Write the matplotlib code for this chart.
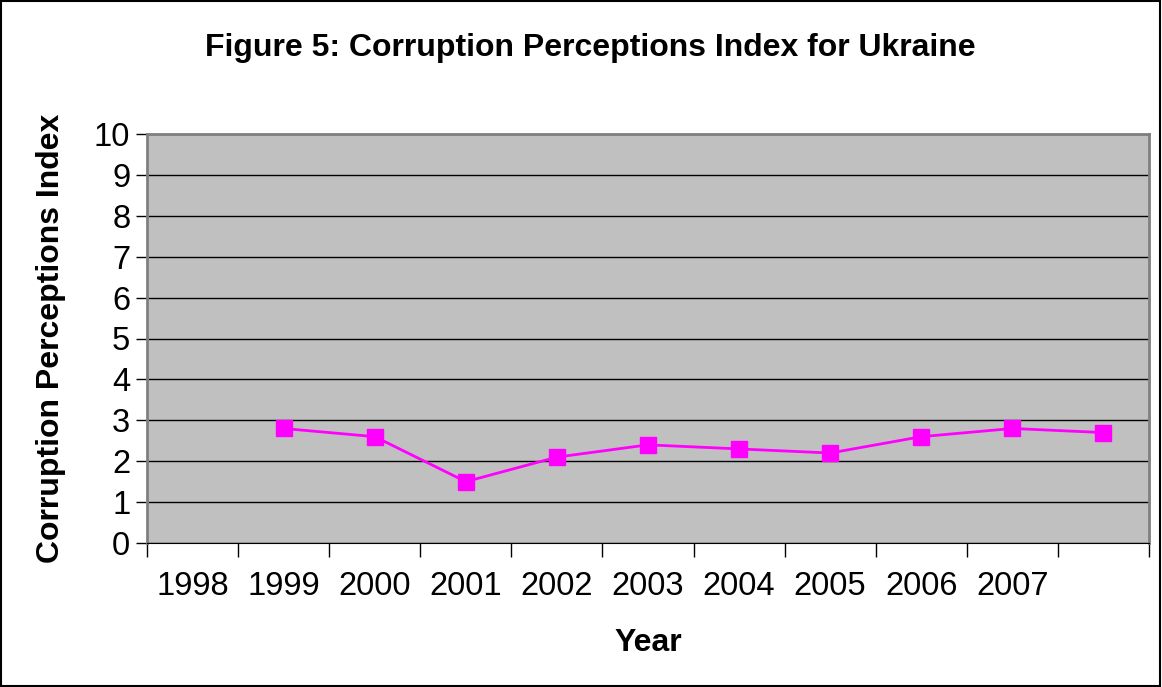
import numpy as np
import matplotlib
matplotlib.use("Agg")
import matplotlib.pyplot as plt
from matplotlib.patches import Rectangle

# category labels as printed on the axis (last slot has no label)
year_labels = ["1998", "1999", "2000", "2001", "2002", "2003",
               "2004", "2005", "2006", "2007", ""]
# CPI values; first slot is empty in the original chart
cpi_values = [np.nan, 2.8, 2.6, 1.5, 2.1, 2.4, 2.3, 2.2, 2.6, 2.8, 2.7]

plt.rcParams["font.family"] = ["Liberation Sans", "DejaVu Sans"]

fig = plt.figure(figsize=(11.62, 6.87), dpi=100)
ax = fig.add_axes([147 / 1162, 1 - 543 / 687, 1002 / 1162, 409 / 687])

x = np.arange(len(year_labels))
ax.plot(x, cpi_values, color="#ff00ff", lw=2, marker="s", ms=11,
        markeredgecolor="#ff00ff", zorder=3)

ax.set_facecolor("#c0c0c0")
ax.set_xlim(-0.5, len(year_labels) - 0.5)
ax.set_ylim(0, 10)
ax.set_yticks(range(0, 11))
ax.yaxis.grid(True, color="black", lw=1)
ax.set_axisbelow(True)

# ticks at category boundaries, labels at category centers
ax.set_xticks(np.arange(-0.5, len(year_labels)), minor=False)
ax.set_xticklabels([])
ax.set_xticks(x, minor=True)
ax.set_xticklabels(year_labels, minor=True, fontsize=23.5)
ax.tick_params(axis="x", which="major", length=10, width=1, color="black")
ax.tick_params(axis="x", which="minor", length=0, pad=20)
ax.tick_params(axis="y", length=8, width=1, labelsize=23.5, pad=4)

for side in ["top", "right", "left"]:
    ax.spines[side].set_color("#808080")
    ax.spines[side].set_linewidth(2)
ax.spines["bottom"].set_color("black")

ax.set_xlabel("Year", fontsize=23, fontweight="bold", labelpad=19)
ax.set_ylabel("Corruption Perceptions Index", fontsize=23, fontweight="bold",
              labelpad=20)
fig.text(590 / 1162, 1 - 48 / 687, "Figure 5: Corruption Perceptions Index for Ukraine",
         ha="center", va="center", fontsize=23, fontweight="bold")

# outer chart border
fig.patches.append(Rectangle((0.001, 0.002), 0.997, 0.996, transform=fig.transFigure,
                             fill=False, edgecolor="black", lw=1.5))

fig.savefig("out.png", dpi=100)
